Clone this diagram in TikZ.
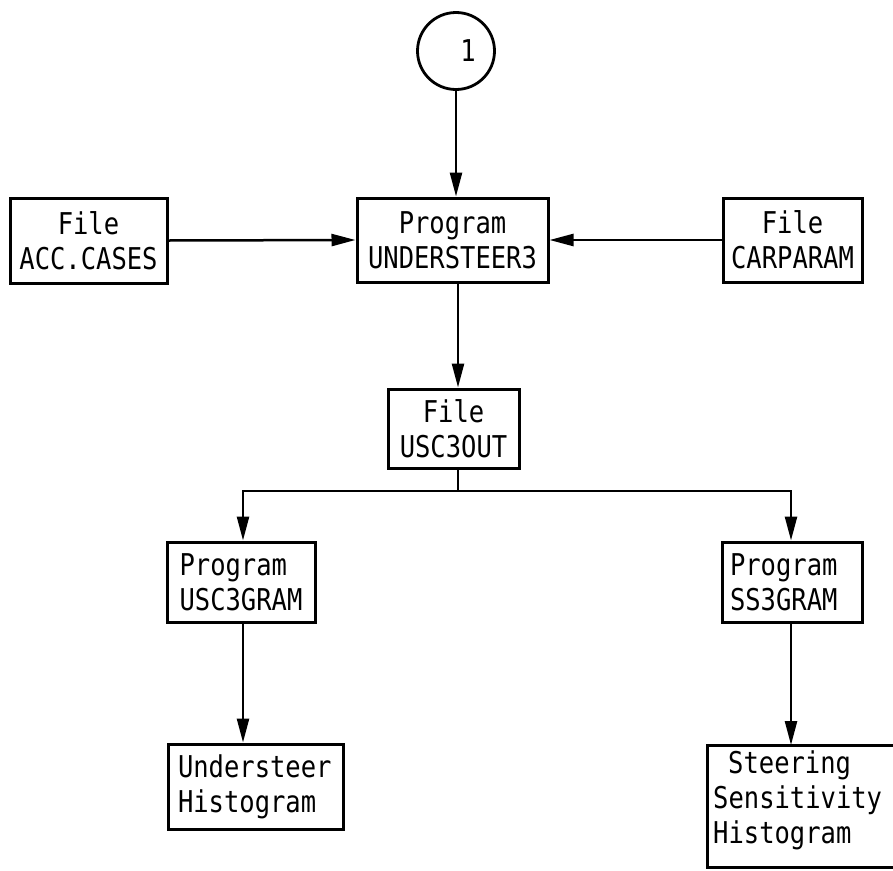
\documentclass[tikz,border=0pt]{standalone}
\usepackage{fontspec}
\newfontfamily\diafont[FakeStretch=0.85]{DejaVu Sans Mono}
\usetikzlibrary{arrows.meta}
\begin{document}
\begin{tikzpicture}[x=1pt,y=-1pt,
  txt/.style={font=\diafont\fontsize{30}{35}\selectfont},
  box/.style={txt, draw, line width=3pt, inner sep=0pt, align=center},
  lbox/.style={box, align=left},
  conn/.style={line width=2.5pt},
  arr/.style={conn, -{Triangle[length=24pt,width=12pt]}}
]
\useasboundingbox (0,0) rectangle (893,870);

% circle connector
\node (c1) [draw, circle, line width=2.8pt, minimum size=77pt, inner sep=0pt, txt] at (456,51) {\hspace*{24pt}1};

% top row
\node (acc) [box, minimum width=157pt, minimum height=85pt] at (88.5,240.5) {File\\ACC.CASES};
\node (us3) [box, minimum width=191pt, minimum height=84pt] at (452.5,240) {Program\\UNDERSTEER3};
\node (car) [box, minimum width=139pt, minimum height=84pt] at (792.5,240) {File\\CARPARAM};

% middle
\node (out) [box, minimum width=131pt, minimum height=79pt] at (453.5,428.5) {File\\USC3OUT};

% programs
\node (ugram) [lbox, minimum width=148pt, minimum height=80pt] at (241,582) {Program\\USC3GRAM};
\node (sgram) [lbox, minimum height=80pt, text width=124pt, inner xsep=8pt] at (792,582) {Program\\SS3GRAM};

% histograms
\node (uhist) [lbox, text width=155pt, inner xsep=10pt, minimum height=85pt] at (255.5,786.5) {Understeer\\Histogram};
\node (shist) [txt, align=left, anchor=west, inner sep=0pt] at (713,800) {\hspace*{15pt}Steering\\Sensitivity\\Histogram};
\draw[line width=3pt] (707,745) rectangle (910,867);

% junction coordinates
\coordinate (j)  at (458,491);
\coordinate (jl) at (243,491);
\coordinate (jr) at (791,491);
\coordinate (shtop) at (791,745);

% connectors
\draw[arr] (c1.south) -- (c1.south |- us3.north);
\draw[arr] (acc.east) -- (us3.west);
\draw[arr] (car.west) -- (us3.east);
\draw[arr] (us3.south -| j) -- (out.north -| j);
\draw[conn] (out.south -| j) -- (j);
\draw[conn, line cap=rect] (jl) -- (jr);
\draw[arr] (jl) -- (jl |- ugram.north);
\draw[arr] (jr) -- (jr |- sgram.north);
\draw[arr] (ugram.south -| jl) -- (jl |- uhist.north);
\draw[arr] (sgram.south -| jr) -- (shtop);
\end{tikzpicture}
\end{document}
